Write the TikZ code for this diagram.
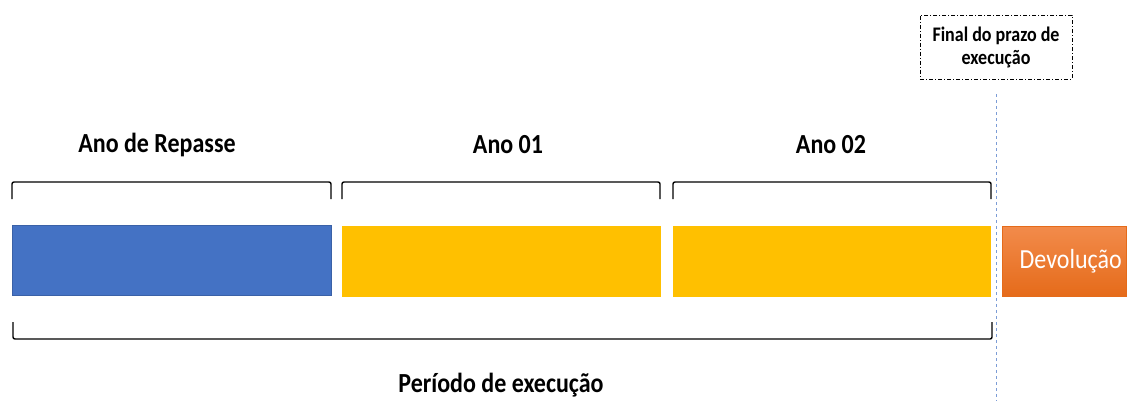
\documentclass[tikz,border=0pt]{standalone}
\usepackage{fontspec}
\setmainfont{Carlito}
\usetikzlibrary{positioning}
\definecolor{repblue}{HTML}{4472C4}
\definecolor{anoyellow}{HTML}{FFC000}
\definecolor{devtop}{HTML}{F28B4B}
\definecolor{devbot}{HTML}{E56B1A}
\newcommand{\alto}[1]{\scalebox{1}[1.15]{#1}}

\begin{document}
\begin{tikzpicture}[x=1pt,y=-1pt,
    bar/.style={draw=#1!85!black, fill=#1, line width=0.5pt, inner sep=0pt,
                minimum height=70pt, anchor=north west},
    brace/.style={line width=1.4pt, rounded corners=2pt},
    lbl/.style={font=\bfseries\fontsize{24}{28}\selectfont}]
            \useasboundingbox (0,0) rectangle (1131,401);

            % barras do periodo
            \node[bar=repblue, minimum width=319pt] (repasse) at (12,225) {};
            \node[bar=anoyellow, draw=anoyellow, minimum width=318pt] (ano1) at (342,226) {};
            \node[bar=anoyellow, draw=anoyellow, minimum width=317pt] (ano2) at (673,226) {};

            \node[draw=devbot, top color=devtop, bottom color=devbot, text=white,
                  minimum width=124pt, minimum height=70pt, inner sep=0pt,
                  anchor=north west, font=\fontsize{24}{28}\selectfont]
                  (devol) at (1002,226) {\hspace*{13pt}\alto{Devolução}};

            % chaves de cima
            \foreach \a/\b in {12/331, 342/660, 673/991}
            \draw[brace] (\a,199) -- (\a,182) -- (\b,182) -- (\b,199);

            \node[lbl] (lrep) at (157,145) {\alto{Ano de Repasse}};
            \node[lbl] (lano1) at (508,145) {\alto{Ano 01}};
            \node[lbl] (lano2) at (831,145) {\alto{Ano 02}};

            % chave de baixo
            \draw[brace] (13,322) -- (13,339) -- (992,339) -- (992,322);
            \node[lbl] (lper) at (501,385) {\alto{Período de execução}};

            % final do prazo
            \node[draw, line width=0.9pt, dash pattern=on 4pt off 2pt on 1pt off 2pt,
                  align=center, minimum width=152pt, minimum height=64pt, inner sep=2pt,
                  font=\bfseries\fontsize{18}{23}\selectfont]
                  (prazo) at (996,47) {\alto{Final do prazo de}\\\alto{execução}};
            \coordinate (fim) at (996,401);
            \draw[repblue!70, dashed, line width=0.6pt] ([yshift=-15pt]prazo.south) -- (fim);
        \end{tikzpicture}
\end{document}
